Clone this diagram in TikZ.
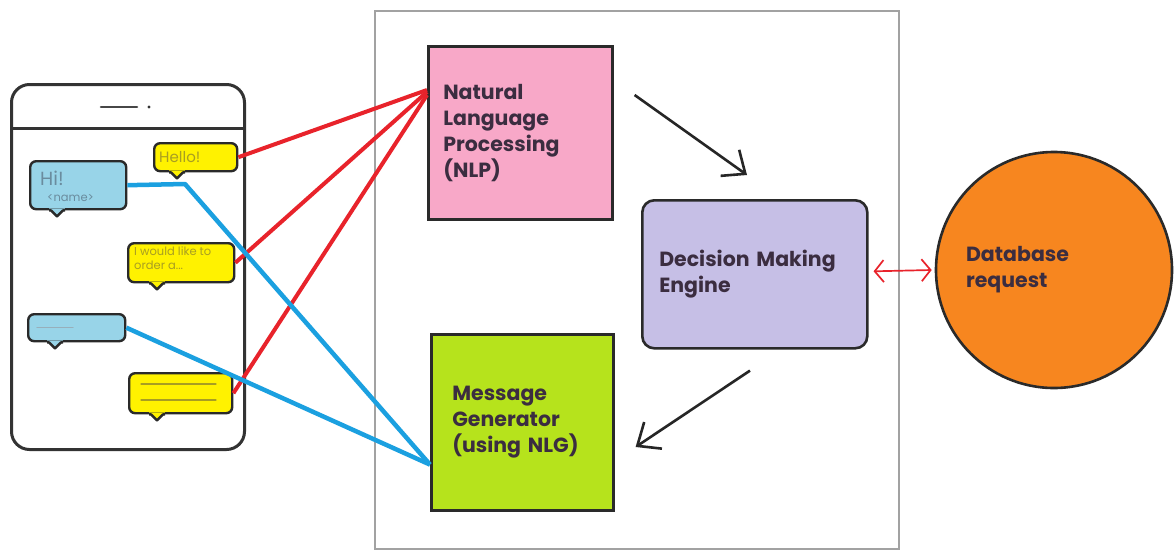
\documentclass[tikz,border=0pt]{standalone}
\usepackage{fontspec}
\setmainfont{Poppins}
\usetikzlibrary{arrows.meta,calc}
\definecolor{framegray}{HTML}{A2A2A2}
\definecolor{boxline}{HTML}{2A2A2A}
\definecolor{labeltext}{HTML}{3B2D40}
\definecolor{nlpfill}{HTML}{F8A8C8}
\definecolor{dmefill}{HTML}{C6BFE6}
\definecolor{nlgfill}{HTML}{B6E31C}
\definecolor{dbfill}{HTML}{F7861F}
\definecolor{bubyellow}{HTML}{FFF200}
\definecolor{bubblue}{HTML}{98D4E8}
\definecolor{linkred}{HTML}{E8232B}
\definecolor{linkblue}{HTML}{1BA0E0}
\definecolor{phoneline}{HTML}{333333}
\definecolor{yeltext}{HTML}{A89E22}
\definecolor{bluetext}{HTML}{6A8C9E}
\tikzset{
  mainbox/.style={draw=boxline, line width=2.6pt, text=labeltext, align=left,
    font=\bfseries\fontsize{20.5}{26}\selectfont, inner ysep=0pt, anchor=north west},
  bubble/.style={draw=boxline, line width=2.4pt, rounded corners=6pt, inner sep=0pt, anchor=north west},
  taildraw/.style={draw=boxline, line width=2.4pt, line join=round},
  redlink/.style={draw=linkred, line width=4pt},
  bluelink/.style={draw=linkblue, line width=4.5pt, line join=round},
  flowarrow/.style={draw=black!85, line width=2.6pt, -{Straight Barb[length=19pt,width=32pt,line width=2.6pt]}},
  dbarrow/.style={draw=linkred, line width=1.7pt, {Straight Barb[length=9pt,width=22pt,line width=1.7pt]}-{Straight Barb[length=9pt,width=22pt,line width=1.7pt]}},
  placeholder/.style={line width=1.2pt, line cap=round}
}
\begin{document}
\begin{tikzpicture}[x=1pt,y=-1pt]
\useasboundingbox (0,0) rectangle (1174,552);
\fill[white] (0,0) rectangle (1174,552);

% middle frame
\node[draw=framegray, line width=2.4pt, minimum width=524pt, minimum height=538pt, anchor=north west, inner sep=0pt] (frame) at (374,10) {};

% phone
\node[draw=phoneline, line width=3pt, rounded corners=18pt, minimum width=233pt, minimum height=365pt, anchor=north west, inner sep=0pt] (phone) at (10,83) {};
\coordinate (hdl) at (10,128);
\coordinate (hdr) at (243,128);
\draw[phoneline, line width=3pt] (hdl) -- (hdr);
\coordinate (spk1) at (101,107);
\coordinate (spk2) at (137,107);
\coordinate (spkdot) at (149,107);
\draw[phoneline!90, line width=2.6pt, line cap=round] (spk1) -- (spk2);
\fill[phoneline] (spkdot) circle (1.6pt);

% bubbles
\node[bubble, fill=bubyellow, minimum width=83pt, minimum height=28pt] (hello) at (153,142) {};
\node[bubble, fill=bubblue, minimum width=96pt, minimum height=48pt] (hi) at (29,160) {};
\node[bubble, fill=bubyellow, minimum width=106pt, minimum height=39pt] (order) at (127,242) {};
\node[bubble, fill=bubblue, minimum width=97pt, minimum height=27pt] (blue2) at (27,313) {};
\node[bubble, fill=bubyellow, minimum width=103pt, minimum height=40pt] (yel2) at (128,372) {};

% tails
\foreach \b/\off/\col in {hello/24/bubyellow, hi/28/bubblue, order/30/bubyellow, blue2/28/bubblue, yel2/29/bubyellow}{
  \coordinate (t) at ($(\b.south west)+(\off,0)$);
  \fill[\col] ($(t)+(-8,-2)$) -- ($(t)+(-7,0)$) -- ($(t)+(0,6)$) -- ($(t)+(7,0)$) -- ($(t)+(8,-2)$) -- cycle;
  \draw[taildraw] ($(t)+(-8,0)$) -- ($(t)+(-6,0)$) -- ($(t)+(0,6)$) -- ($(t)+(6,0)$) -- ($(t)+(8,0)$);
}

% bubble texts
\node[anchor=west, text=yeltext, font=\fontsize{15}{16}\selectfont, inner sep=0pt] (hellotxt) at ($(hello.west)+(6,0)$) {Hello!};
\node[anchor=base west, text=bluetext, font=\fontsize{19}{19}\selectfont, inner sep=0pt] (hitxt) at ($(hi.north west)+(11,25)$) {Hi!};
\node[anchor=base west, text=bluetext, font=\fontsize{11.5}{12}\selectfont, inner sep=0pt] (nametxt) at ($(hi.north west)+(18,41)$) {<name>};
\node[anchor=north west, text=yeltext, font=\fontsize{11.5}{13.5}\selectfont, align=left, inner sep=0pt] (ordertxt) at ($(order.north west)+(7,5)$) {I would like to\\order a...};
\coordinate (pl1a) at ($(blue2.west)+(10,0)$);
\coordinate (pl1b) at ($(blue2.west)+(46,0)$);
\draw[placeholder, draw=bluetext!70] (pl1a) -- (pl1b);
\coordinate (pl2a) at ($(yel2.north west)+(13,12)$);
\coordinate (pl2b) at ($(yel2.north west)+(88,12)$);
\coordinate (pl3a) at ($(yel2.north west)+(13,28)$);
\coordinate (pl3b) at ($(yel2.north west)+(88,28)$);
\draw[placeholder, draw=yeltext] (pl2a) -- (pl2b);
\draw[placeholder, draw=yeltext] (pl3a) -- (pl3b);

% main boxes
\node[mainbox, fill=nlpfill, text width=154pt, inner xsep=15pt, minimum height=173pt] (nlp) at (427,45)
  {Natural\\Language\\Processing\\(NLP)};
\node[mainbox, fill=dmefill, rounded corners=12pt, text width=191pt, inner xsep=17pt, minimum height=148pt] (dme) at (641,199)
  {Decision Making\\Engine};
\node[mainbox, fill=nlgfill, text width=140pt, inner xsep=21pt, minimum height=176pt] (nlg) at (430,333)
  {Message\\Generator\\(using NLG)};
\node[circle, draw=boxline, line width=2.6pt, fill=dbfill, minimum size=236pt, text width=176pt, align=left,
  inner sep=0pt, text=labeltext, font=\bfseries\fontsize{20.5}{26}\selectfont] (db) at (1054,270)
  {Database\\request};

% red links to NLP
\draw[redlink] (hello.east) -- ($(nlp.north west)+(0,45)$);
\draw[redlink] (order.east) -- ($(nlp.north west)+(0,47)$);
\draw[redlink] (yel2.east) -- ($(nlp.north west)+(0,50)$);

% blue links to NLG
\coordinate (bend) at (185,184);
\draw[bluelink] (hi.east) -- (bend) -- ($(nlg.south west)+(0,-47)$);
\draw[bluelink] (blue2.east) -- ($(nlg.south west)+(0,-47)$);

% flow arrows
\coordinate (a1s) at ($(nlp.north east)+(21,50)$);
\coordinate (a1e) at ($(dme.north west)+(106,-24)$);
\draw[flowarrow] (a1s) -- (a1e);
\coordinate (a2s) at ($(dme.south west)+(109,21)$);
\coordinate (a2e) at ($(nlg.north east)+(21,114)$);
\draw[flowarrow] (a2s) -- (a2e);

% database link
\draw[dbarrow] ($(dme.east)+(5,-3)$) -- ($(db.west)+(-3,0)$);
\end{tikzpicture}
\end{document}
